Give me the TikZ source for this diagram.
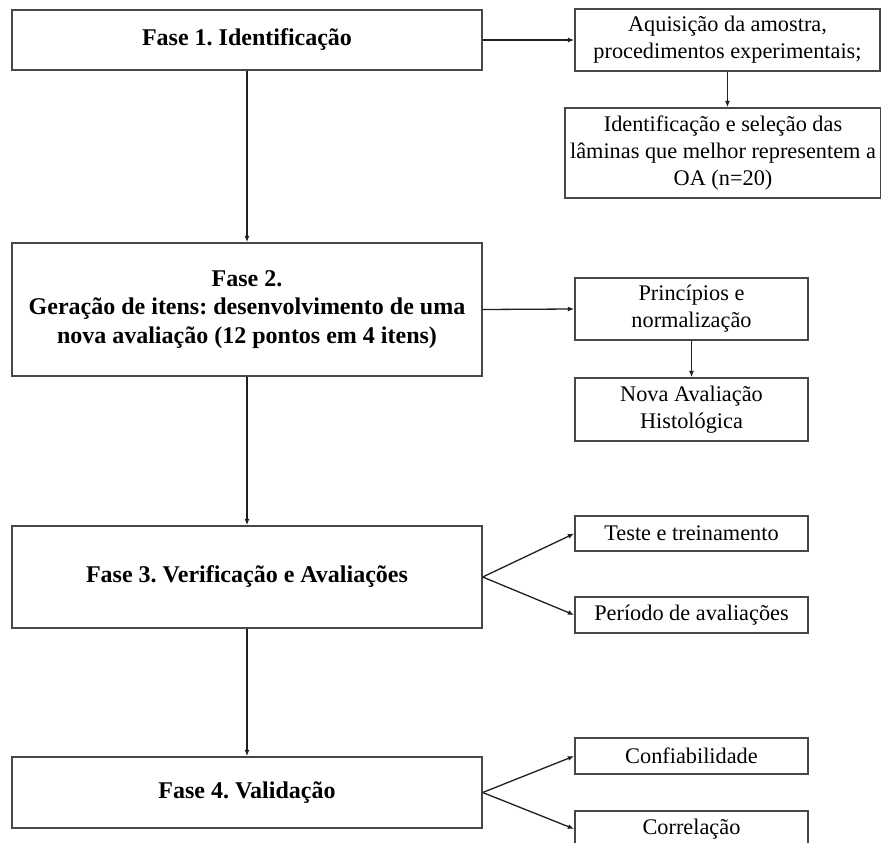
\documentclass[tikz,border=0pt]{standalone}
\usepackage{fontspec}
\setmainfont{Liberation Serif}
\usetikzlibrary{arrows.meta}
\frenchspacing
\begin{document}
\begin{tikzpicture}[x=1pt,y=-1pt,
  box/.style={draw=black!72, line width=1.4pt, fill=white, inner sep=0pt, align=center, anchor=center},
  phase/.style={box, font=\fontsize{24}{28.5}\selectfont\bfseries},
  sub/.style={box, font=\fontsize{22.3}{27}\selectfont},
  conn/.style={draw=black!88, line width=1.3pt, -{Latex[length=6.5pt,width=5pt]}}]
\fill[white] (0,0) rectangle (881,843);
\useasboundingbox (0,0) rectangle (881,843);
% phases
\node[phase, minimum width=470pt, minimum height=60pt] (f1) at (247,40) {Fase 1. Identificação};
\node[phase, minimum width=470pt, minimum height=133pt] (f2) at (247,309.5) {Fase 2.\\Geração de itens: desenvolvimento de uma\\nova avaliação (12 pontos em 4 itens)};
\node[phase, minimum width=470pt, minimum height=102pt] (f3) at (247,577) {Fase 3. Verificação e Avaliações};
\node[phase, minimum width=470pt, minimum height=71pt] (f4) at (247,792.5) {Fase 4. Validação};
% side boxes
\node[sub, minimum width=305pt, minimum height=62pt] (a) at (727.5,40) {Aquisição da amostra,\\procedimentos experimentais;};
\node[sub, minimum width=316pt, minimum height=90pt] (b) at (723,153) {Identificação e seleção das\\lâminas que melhor representem a\\OA (n=20)};
\node[sub, minimum width=233pt, minimum height=62pt] (c) at (691.5,309) {Princípios e\\normalização};
\node[sub, minimum width=233pt, minimum height=63pt] (d) at (691.5,409.5) {Nova Avaliação\\Histológica};
\node[sub, minimum width=233pt, minimum height=35pt] (t) at (691.5,533.5) {Teste e treinamento};
\node[sub, minimum width=233pt, minimum height=36pt] (p) at (691.5,615) {Período de avaliações};
\node[sub, minimum width=233pt, minimum height=36pt] (cf) at (691.5,756) {Confiabilidade};
\node[sub, minimum width=233pt, minimum height=36pt] (co) at (691.5,829) {Correlação};
% connectors
\draw[conn] (f1) -- (f2);
\draw[conn] (f2) -- (f3);
\draw[conn] (f3) -- (f4);
\draw[conn] (f1.east) -- (a.west);
\draw[conn] (a.south) -- (a.south |- b.north);
\draw[conn] (f2.east) -- (c.west);
\draw[conn] (c) -- (d);
\draw[conn] (f3.east) -- (t.west);
\draw[conn] (f3.east) -- (p.west);
\draw[conn] (f4.east) -- (cf.west);
\draw[conn] (f4.east) -- (co.west);
\end{tikzpicture}
\end{document}
